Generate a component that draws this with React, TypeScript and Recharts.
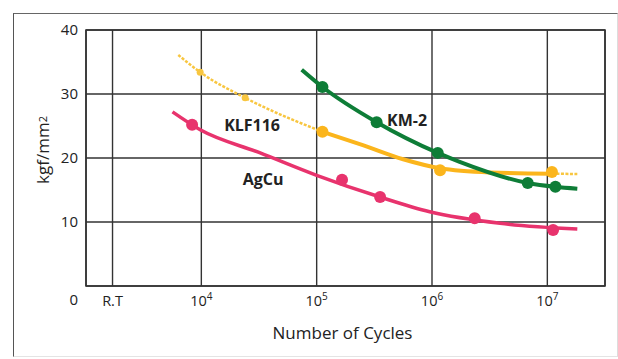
import React from "react";
import {
  ComposedChart,
  Line,
  Scatter,
  XAxis,
  YAxis,
  CartesianGrid,
  ReferenceArea,
  Label,
} from "recharts";

// x values are log10(number of cycles); R.T sits left of 10^4
const xTicks = [3.23, 4, 5, 6, 7];
const xTickLabels = ["R.T", "10|4", "10|5", "10|6", "10|7"];
const yTicks = [0, 10, 20, 30, 40];

// KM-2 (green)
const kmCurveX = [4.87, 5.05, 5.52, 6.05, 6.24, 6.83, 7.07, 7.26];
const kmCurveY = [33.8, 31.1, 25.6, 20.8, 19.4, 16.1, 15.5, 15.2];
const kmDotX = [5.05, 5.52, 6.05, 6.83, 7.07];
const kmDotY = [31.1, 25.6, 20.8, 16.1, 15.5];

// KLF116 (yellow)
const klfCurveX = [5.05, 5.4, 5.75, 6.07, 6.5, 7.04];
const klfCurveY = [24.1, 22.0, 19.8, 18.4, 17.75, 17.55];
const klfDashLeftX = [3.8, 3.99, 4.38, 5.05];
const klfDashLeftY = [36.1, 33.4, 29.4, 24.1];
const klfDashRightX = [7.04, 7.26];
const klfDashRightY = [17.55, 17.5];
const klfDotX = [5.05, 6.07, 7.04];
const klfDotY = [24.1, 18.1, 17.8];
const klfSmallDotX = [3.99, 4.38];
const klfSmallDotY = [33.4, 29.4];

// AgCu (pink)
const agCurveX = [3.75, 3.99, 4.51, 5.0, 5.55, 5.98, 6.59, 7.26];
const agCurveY = [27.2, 24.4, 20.8, 17.3, 13.9, 11.6, 9.8, 8.9];
const agDotX = [3.92, 5.22, 5.55, 6.37, 7.05];
const agDotY = [25.2, 16.6, 13.9, 10.6, 8.75];

// series name labels
const seriesNames = ["KLF116", "AgCu", "KM-2"];
const nameX = [4.44, 4.535, 5.784];
const nameY = [25.2, 16.7, 25.9];

const GREEN = "#0e7d37";
const YELLOW = "#fbb51c";
const YELLOW_LIGHT = "#f8c640";
const PINK = "#e8336d";
const FONT = "'Open Sans', 'Noto Sans', sans-serif";

const zip = (xs: number[], ys: number[]) => xs.map((x, i) => ({ x, y: ys[i] }));

const kmCurve = zip(kmCurveX, kmCurveY);
const kmDots = zip(kmDotX, kmDotY);
const klfCurve = zip(klfCurveX, klfCurveY);
const klfDashL = zip(klfDashLeftX, klfDashLeftY);
const klfDashR = zip(klfDashRightX, klfDashRightY);
const klfDots = zip(klfDotX, klfDotY);
const klfSmall = zip(klfSmallDotX, klfSmallDotY);
const agCurve = zip(agCurveX, agCurveY);
const agDots = zip(agDotX, agDotY);
const names = seriesNames.map((n, i) => ({ x: nameX[i], y: nameY[i], name: n }));

const XTick = (props: any) => {
  const { x, y, payload } = props;
  const idx = xTicks.indexOf(payload.value);
  const lab = xTickLabels[idx] ?? "";
  const [base, sup] = lab.split("|");
  return (
    <text
      x={x}
      y={y + 20}
      textAnchor="middle"
      fontFamily={FONT}
      fontSize={14.5}
      fill="#222"
    >
      {base}
      {sup !== undefined && (
        <tspan fontSize={10} dy={-6}>
          {sup}
        </tspan>
      )}
    </text>
  );
};

const YTick = (props: any) => {
  const { x, y, payload } = props;
  const dy = payload.value === 0 ? 14 : 0;
  return (
    <text
      x={x}
      y={y + dy + 5}
      textAnchor="end"
      fontFamily={FONT}
      fontSize={15}
      fill="#222"
    >
      {payload.value}
    </text>
  );
};

const dotShape = (color: string, r: number) => (props: any) => {
  const { cx, cy } = props;
  return <circle cx={cx} cy={cy} r={r} fill={color} />;
};

const nameShape = (props: any) => {
  const { cx, cy, payload } = props;
  return (
    <text
      x={cx}
      y={cy + 6}
      textAnchor="middle"
      fontFamily={FONT}
      fontWeight="bold"
      fontSize={16}
      fill="#222"
    >
      {payload.name}
    </text>
  );
};

export default function App() {
  return (
    <div
      style={{
        position: "absolute",
        left: 0,
        top: 0,
        width: 618,
        height: 359,
        background: "#fff",
      }}
    >
      <div
        style={{
          position: "absolute",
          left: 13,
          top: 13,
          width: 603,
          height: 342,
          borderLeft: "1.5px solid #555",
          borderTop: "1.5px solid #666",
          borderRight: "1px solid #ddd",
          borderBottom: "1px solid #e4e4e4",
        }}
      />
      <div style={{ position: "absolute", left: 0, top: 0 }}>
        <ComposedChart
          width={618}
          height={359}
          margin={{ top: 30, right: 13, bottom: 0, left: 26 }}
        >
          <CartesianGrid
            stroke="#333"
            strokeWidth={1.4}
            strokeDasharray=""
            fill="none"
          />
          <XAxis
            type="number"
            dataKey="x"
            domain={[3, 7.5]}
            ticks={xTicks}
            interval={0}
            allowDataOverflow
            height={73}
            tickLine={false}
            axisLine={false}
            tickSize={0}
            tickMargin={0}
            tick={<XTick />}
          >
            <Label
              content={(p: any) => {
                const vb = p.viewBox || { x: 86, y: 286, width: 519 };
                return (
                  <text
                    x={vb.x + vb.width / 2 - 3}
                    y={vb.y + 53}
                    textAnchor="middle"
                    fontFamily={FONT}
                    fontSize={17}
                    fill="#222"
                  >
                    Number of Cycles
                  </text>
                );
              }}
            />
          </XAxis>
          <YAxis
            type="number"
            dataKey="y"
            domain={[0, 40]}
            ticks={yTicks}
            interval={0}
            width={60}
            tickLine={false}
            axisLine={false}
            tickSize={0}
            tickMargin={8}
            tick={<YTick />}
          >
            <Label
              content={(p: any) => {
                const vb = p.viewBox || { x: 26, y: 30, height: 256 };
                const cx = vb.x + 16;
                const cy = vb.y + 120;
                return (
                  <text
                    x={cx}
                    y={cy}
                    transform={`rotate(-90 ${cx} ${cy})`}
                    textAnchor="middle"
                    dominantBaseline="central"
                    fontFamily={FONT}
                    fontSize={17}
                    fill="#222"
                  >
                    kgf/mm
                    <tspan fontSize={11}>2</tspan>
                  </text>
                );
              }}
            />
          </YAxis>
          <ReferenceArea
            x1={3}
            x2={7.5}
            y1={0}
            y2={40}
            fill="none"
            stroke="#333"
            strokeWidth={1.6}
            ifOverflow="extendDomain"
          />
          <Line
            data={klfDashL}
            dataKey="y"
            type="monotone"
            stroke={YELLOW_LIGHT}
            strokeWidth={2.5}
            strokeDasharray="3 1.5"
            dot={false}
            activeDot={false}
            isAnimationActive={false}
          />
          <Line
            data={klfDashR}
            dataKey="y"
            type="monotone"
            stroke={YELLOW_LIGHT}
            strokeWidth={2.5}
            strokeDasharray="3 1.5"
            dot={false}
            activeDot={false}
            isAnimationActive={false}
          />
          <Line
            data={klfCurve}
            dataKey="y"
            type="monotone"
            stroke={YELLOW}
            strokeWidth={4}
            dot={false}
            activeDot={false}
            isAnimationActive={false}
          />
          <Line
            data={agCurve}
            dataKey="y"
            type="monotone"
            stroke={PINK}
            strokeWidth={3.5}
            dot={false}
            activeDot={false}
            isAnimationActive={false}
          />
          <Line
            data={kmCurve}
            dataKey="y"
            type="monotone"
            stroke={GREEN}
            strokeWidth={4}
            dot={false}
            activeDot={false}
            isAnimationActive={false}
          />
          <Scatter
            data={klfSmall}
            dataKey="y"
            shape={dotShape(YELLOW_LIGHT, 3.5)}
            isAnimationActive={false}
          />
          <Scatter
            data={klfDots}
            dataKey="y"
            shape={dotShape(YELLOW, 6)}
            isAnimationActive={false}
          />
          <Scatter
            data={agDots}
            dataKey="y"
            shape={dotShape(PINK, 6)}
            isAnimationActive={false}
          />
          <Scatter
            data={kmDots}
            dataKey="y"
            shape={dotShape(GREEN, 6)}
            isAnimationActive={false}
          />
          <Scatter
            data={names}
            dataKey="y"
            shape={nameShape}
            isAnimationActive={false}
          />
        </ComposedChart>
      </div>
    </div>
  );
}
